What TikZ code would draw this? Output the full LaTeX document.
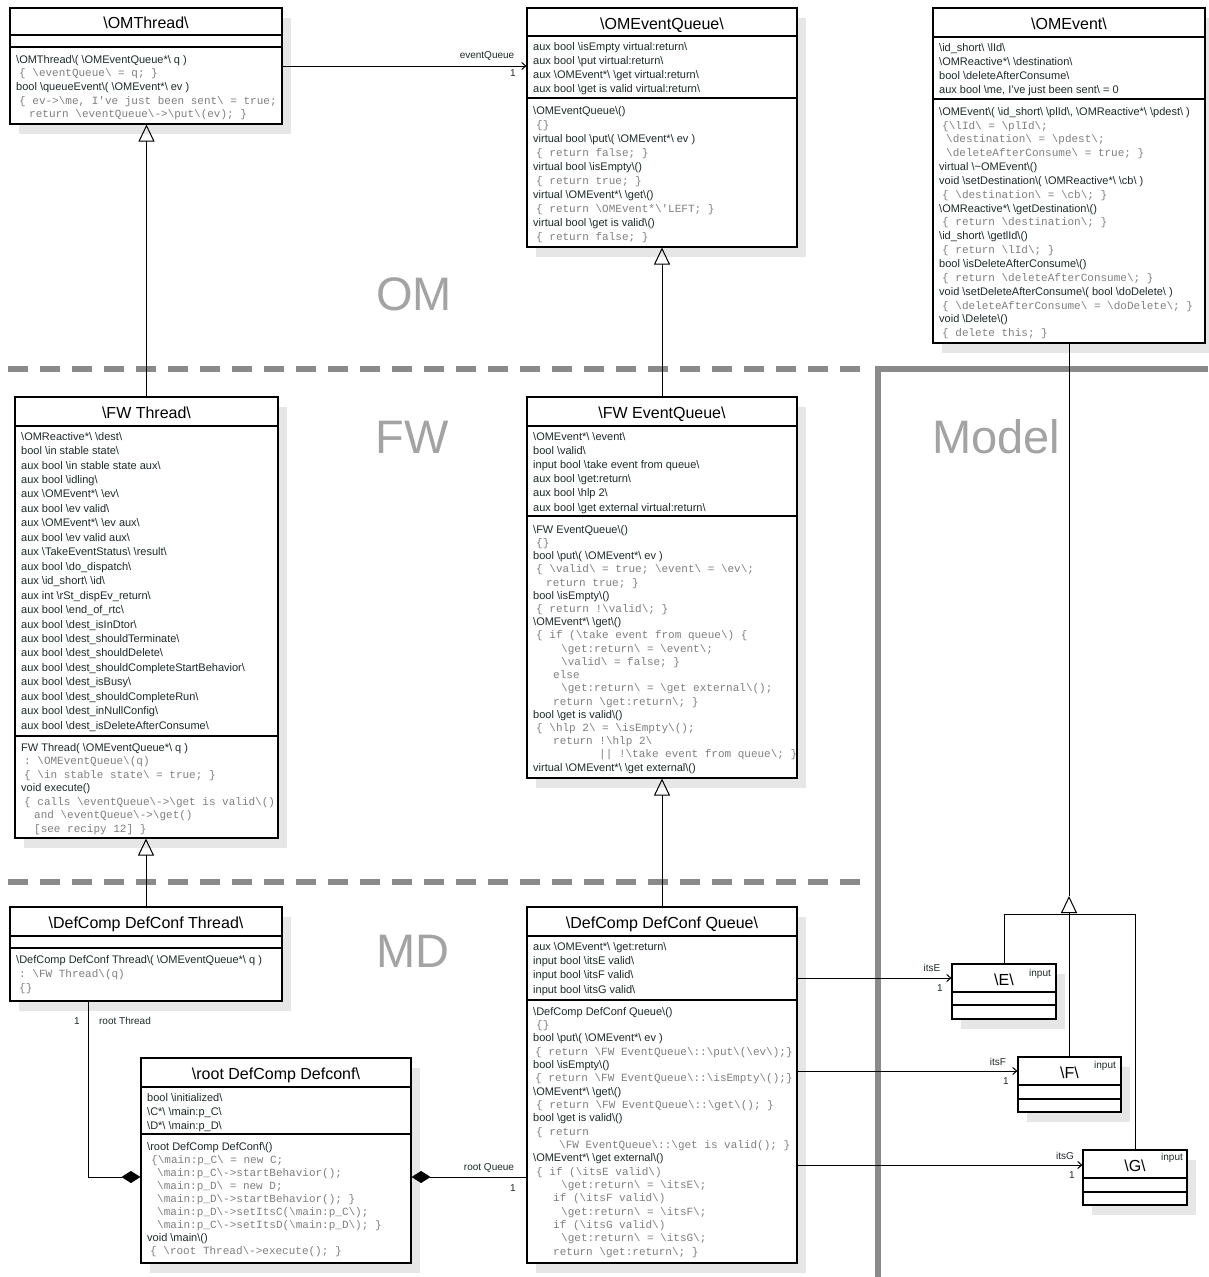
\documentclass[tikz,border=0pt]{standalone}
\usepackage{fontspec}
\setmainfont{Liberation Sans}
\setmonofont{Liberation Mono}
\usetikzlibrary{arrows.meta,shadows,fit}

\definecolor{sigc}{HTML}{1E2A2A}
\definecolor{codec}{HTML}{7F7F7F}
\definecolor{sepc}{HTML}{8A8A8A}
\definecolor{regionc}{HTML}{A3A3A3}
\definecolor{shadowc}{HTML}{E6E6E6}

% a backslash in running text
\newcommand\bk{\textbackslash}
% one line of code: optional indent (pt) and the code itself
\newcommand\codeln[2][0]{\hspace*{\dimexpr #1pt+3pt\relax}{\ttfamily\color{codec}#2}}

\tikzset{
  classbox/.style={draw=black, line width=1.1pt, fill=white, inner sep=0pt,
    drop shadow={shadow xshift=9pt, shadow yshift=-10pt, fill=shadowc, opacity=1}},
  compline/.style={line width=1.1pt},
  ctitle/.style={inner sep=0pt, anchor=base, text=black, font=\fontsize{16}{19}\selectfont},
  ctext/.style={anchor=north west, inner sep=0pt, align=left, text=sigc, yshift=-2pt,
    font=\fontsize{11}{#1}\selectfont, execute at begin node={\rule{0pt}{10pt}}},
  lbl/.style={inner sep=0pt, text=sigc, font=\fontsize{10}{12}\selectfont},
  region/.style={inner sep=0pt, text=regionc, font=\fontsize{47}{52}\selectfont},
  sepdash/.style={line width=6pt, draw=sepc, dash pattern=on 20pt off 12pt},
  sepsolid/.style={line width=6pt, draw=sepc},
  wire/.style={line width=1pt, draw=black},
  assoc/.style={wire, -{Straight Barb[length=4pt,width=7pt]}},
  gen/.style={wire, -{Triangle[open,length=17pt,width=16pt]}},
  comp/.style={wire, {Diamond[length=19pt,width=12pt]}-},
}

% class frame: name, left, top, right, bottom, title bottom, attribute bottom, title
\newcommand\umlclass[8]{%
  \node[classbox, fit={(#2,#3) (#4,#5)}] (#1) {};
  \draw[compline] (#1.west |- 0,#6) -- (#1.east |- 0,#6);
  \draw[compline] (#1.west |- 0,#7) -- (#1.east |- 0,#7);
  \node[ctitle] (#1-title) at ({(#2+#4)/2},{(#3+#6)/2+7}) {#8};
}

\begin{document}
\begin{tikzpicture}[x=1pt,y=-1pt]
\useasboundingbox (0,0) rectangle (1208,1277);
\fill[white] (0,0) rectangle (1208,1277);

% layer separators
\draw[sepdash] (8,369) -- (862,369);
\draw[sepdash] (8,882) -- (862,882);
\draw[sepsolid] (1208,369) -- (878,369) -- (878,1277);

% layer names
\node[region] (reg-om) at (414,294) {OM};
\node[region] (reg-fw) at (412,437) {FW};
\node[region] (reg-model) at (996,437) {Model};
\node[region] (reg-md) at (413,951) {MD};

% ---------------- OMThread
\umlclass{omthread}{10}{8}{282}{124}{35}{47}{\bk OMThread\bk}
\node[ctext=13.7] (omthread-ops) at (16,53) {\bk OMThread\bk( \bk OMEventQueue*\bk\ q )\\
  \codeln{\{ \bk eventQueue\bk\ = q; \}}\\
  bool \bk queueEvent\bk( \bk OMEvent*\bk\ ev )\\
  \codeln{\{ ev->\bk me, I've just been sent\bk\ = true;}\\
  \codeln[10]{return \bk eventQueue\bk->\bk put\bk(ev); \}}};

% ---------------- OMEventQueue
\umlclass{omeq}{527}{8}{797}{247}{36}{98}{\bk OMEventQueue\bk}
\node[ctext=14] (omeq-attr) at (533,40) {aux bool \bk isEmpty virtual:return\bk\\
  aux bool \bk put virtual:return\bk\\
  aux \bk OMEvent*\bk\ \bk get virtual:return\bk\\
  aux bool \bk get is valid virtual:return\bk};
\node[ctext=14] (omeq-ops) at (533,104) {\bk OMEventQueue\bk()\\
  \codeln{\{\}}\\
  virtual bool \bk put\bk( \bk OMEvent*\bk\ ev )\\
  \codeln{\{ return false; \}}\\
  virtual bool \bk isEmpty\bk()\\
  \codeln{\{ return true; \}}\\
  virtual \bk OMEvent*\bk\ \bk get\bk()\\
  \codeln{\{ return \bk OMEvent*\bk'LEFT; \}}\\
  virtual bool \bk get is valid\bk()\\
  \codeln{\{ return false; \}}};

% ---------------- OMEvent
\umlclass{omevent}{933}{8}{1205}{343}{37}{99}{\bk OMEvent\bk}
\node[ctext=14] (omevent-attr) at (939,41) {\bk id\_short\bk\ \bk lId\bk\\
  \bk OMReactive*\bk\ \bk destination\bk\\
  bool \bk deleteAfterConsume\bk\\
  aux bool \bk me, I've just been sent\bk\ = 0};
\node[ctext=13.85] (omevent-ops) at (939,105) {\bk OMEvent\bk( \bk id\_short\bk\ \bk plId\bk, \bk OMReactive*\bk\ \bk pdest\bk\ )\\
  \codeln{\{\bk lId\bk\ = \bk plId\bk;}\\
  \codeln[4]{\bk destination\bk\ = \bk pdest\bk;}\\
  \codeln[4]{\bk deleteAfterConsume\bk\ = true; \}}\\
  virtual \bk\textasciitilde OMEvent\bk()\\
  void \bk setDestination\bk( \bk OMReactive*\bk\ \bk cb\bk\ )\\
  \codeln{\{ \bk destination\bk\ = \bk cb\bk; \}}\\
  \bk OMReactive*\bk\ \bk getDestination\bk()\\
  \codeln{\{ return \bk destination\bk; \}}\\
  \bk id\_short\bk\ \bk getlId\bk()\\
  \codeln{\{ return \bk lId\bk; \}}\\
  bool \bk isDeleteAfterConsume\bk()\\
  \codeln{\{ return \bk deleteAfterConsume\bk; \}}\\
  void \bk setDeleteAfterConsume\bk( bool \bk doDelete\bk\ )\\
  \codeln{\{ \bk deleteAfterConsume\bk\ = \bk doDelete\bk; \}}\\
  void \bk Delete\bk()\\
  \codeln{\{ delete this; \}}};

% ---------------- FW Thread
\umlclass{fwthread}{15}{397}{278}{838}{426}{736}{\bk FW Thread\bk}
\node[ctext=14.45] (fwthread-attr) at (21,430) {\bk OMReactive*\bk\ \bk dest\bk\\
  bool \bk in stable state\bk\\
  aux bool \bk in stable state aux\bk\\
  aux bool \bk idling\bk\\
  aux \bk OMEvent*\bk\ \bk ev\bk\\
  aux bool \bk ev valid\bk\\
  aux \bk OMEvent*\bk\ \bk ev aux\bk\\
  aux bool \bk ev valid aux\bk\\
  aux \bk TakeEventStatus\bk\ \bk result\bk\\
  aux bool \bk do\_dispatch\bk\\
  aux \bk id\_short\bk\ \bk id\bk\\
  aux int \bk rSt\_dispEv\_return\bk\\
  aux bool \bk end\_of\_rtc\bk\\
  aux bool \bk dest\_isInDtor\bk\\
  aux bool \bk dest\_shouldTerminate\bk\\
  aux bool \bk dest\_shouldDelete\bk\\
  aux bool \bk dest\_shouldCompleteStartBehavior\bk\\
  aux bool \bk dest\_isBusy\bk\\
  aux bool \bk dest\_shouldCompleteRun\bk\\
  aux bool \bk dest\_inNullConfig\bk\\
  aux bool \bk dest\_isDeleteAfterConsume\bk};
\node[ctext=13.5] (fwthread-ops) at (21,741) {FW Thread( \bk OMEventQueue*\bk\ q )\\
  \codeln{: \bk OMEventQueue\bk(q)}\\
  \codeln{\{ \bk in stable state\bk\ = true; \}}\\
  void execute()\\
  \codeln{\{ calls \bk eventQueue\bk->\bk get is valid\bk()}\\
  \codeln[10]{and \bk eventQueue\bk->\bk get()}\\
  \codeln[10]{[see recipy 12] \}}};

% ---------------- FW EventQueue
\umlclass{fweq}{527}{397}{797}{778}{426}{516}{\bk FW EventQueue\bk}
\node[ctext=14.2] (fweq-attr) at (533,430) {\bk OMEvent*\bk\ \bk event\bk\\
  bool \bk valid\bk\\
  input bool \bk take event from queue\bk\\
  aux bool \bk get:return\bk\\
  aux bool \bk hlp 2\bk\\
  aux bool \bk get external virtual:return\bk};
\node[ctext=13.22] (fweq-ops) at (533,523) {\bk FW EventQueue\bk()\\
  \codeln{\{\}}\\
  bool \bk put\bk( \bk OMEvent*\bk\ ev )\\
  \codeln{\{ \bk valid\bk\ = true; \bk event\bk\ = \bk ev\bk;}\\
  \codeln[10]{return true; \}}\\
  bool \bk isEmpty\bk()\\
  \codeln{\{ return !\bk valid\bk; \}}\\
  \bk OMEvent*\bk\ \bk get\bk()\\
  \codeln{\{ if (\bk take event from queue\bk) \{}\\
  \codeln[25]{\bk get:return\bk\ = \bk event\bk;}\\
  \codeln[25]{\bk valid\bk\ = false; \}}\\
  \codeln[17]{else}\\
  \codeln[25]{\bk get:return\bk\ = \bk get external\bk();}\\
  \codeln[17]{return \bk get:return\bk; \}}\\
  bool \bk get is valid\bk()\\
  \codeln{\{ \bk hlp 2\bk\ = \bk isEmpty\bk();}\\
  \codeln[17]{return !\bk hlp 2\bk}\\
  \codeln[63]{|| !\bk take event from queue\bk; \}}\\
  virtual \bk OMEvent*\bk\ \bk get external\bk()};

% ---------------- DefComp DefConf Thread
\umlclass{dcthread}{10}{907}{282}{1001}{936}{948}{\bk DefComp DefConf Thread\bk}
\node[ctext=14] (dcthread-ops) at (16,953) {\bk DefComp DefConf Thread\bk( \bk OMEventQueue*\bk\ q )\\
  \codeln{: \bk FW Thread\bk(q)}\\
  \codeln{\{\}}};

% ---------------- root DefComp Defconf
\umlclass{rootdc}{141}{1058}{411}{1263}{1087}{1134}{\bk root DefComp Defconf\bk}
\node[ctext=14] (rootdc-attr) at (147,1091) {bool \bk initialized\bk\\
  \bk C*\bk\ \bk main:p\_C\bk\\
  \bk D*\bk\ \bk main:p\_D\bk};
\node[ctext=13.1] (rootdc-ops) at (147,1140) {\bk root DefComp DefConf\bk()\\
  \codeln[1]{\{\bk main:p\_C\bk\ = new C;}\\
  \codeln[7]{\bk main:p\_C\bk->startBehavior();}\\
  \codeln[7]{\bk main:p\_D\bk\ = new D;}\\
  \codeln[7]{\bk main:p\_D\bk->startBehavior(); \}}\\
  \codeln[7]{\bk main:p\_D\bk->setItsC(\bk main:p\_C\bk);}\\
  \codeln[7]{\bk main:p\_C\bk->setItsD(\bk main:p\_D\bk); \}}\\
  void \bk main\bk()\\
  \codeln{\{ \bk root Thread\bk->execute(); \}}};

% ---------------- DefComp DefConf Queue
\umlclass{dcq}{527}{907}{797}{1263}{936}{1000}{\bk DefComp DefConf Queue\bk}
\node[ctext=14.3] (dcq-attr) at (533,940) {aux \bk OMEvent*\bk\ \bk get:return\bk\\
  input bool \bk itsE valid\bk\\
  input bool \bk itsF valid\bk\\
  input bool \bk itsG valid\bk};
\node[ctext=13.33] (dcq-ops) at (533,1005) {\bk DefComp DefConf Queue\bk()\\
  \codeln{\{\}}\\
  bool \bk put\bk( \bk OMEvent*\bk\ ev )\\
  \codeln[-1]{\{ return \bk FW EventQueue\bk::\bk put\bk(\bk ev\bk);\}}\\
  bool \bk isEmpty\bk()\\
  \codeln[-1]{\{ return \bk FW EventQueue\bk::\bk isEmpty\bk();\}}\\
  \bk OMEvent*\bk\ \bk get\bk()\\
  \codeln{\{ return \bk FW EventQueue\bk::\bk get\bk(); \}}\\
  bool \bk get is valid\bk()\\
  \codeln{\{ return}\\
  \codeln[23]{\bk FW EventQueue\bk::\bk get is valid(); \}}\\
  \bk OMEvent*\bk\ \bk get external\bk()\\
  \codeln{\{ if (\bk itsE valid\bk)}\\
  \codeln[25]{\bk get:return\bk\ = \bk itsE\bk;}\\
  \codeln[17]{if (\bk itsF valid\bk)}\\
  \codeln[25]{\bk get:return\bk\ = \bk itsF\bk;}\\
  \codeln[17]{if (\bk itsG valid\bk)}\\
  \codeln[25]{\bk get:return\bk\ = \bk itsG\bk;}\\
  \codeln[17]{return \bk get:return\bk; \}}};

% ---------------- model events
\umlclass{ebox}{952}{964}{1056}{1019}{992}{1005}{\bk E\bk}
\umlclass{fbox}{1018}{1057}{1121}{1112}{1085}{1099}{\bk F\bk}
\umlclass{gbox}{1083}{1150}{1187}{1205}{1178}{1192}{\bk G\bk}
\node[lbl] (ebox-stereo) at (1040,974) {input};
\node[lbl] (fbox-stereo) at (1105,1066) {input};
\node[lbl] (gbox-stereo) at (1172,1158) {input};

% ---------------- connectors
\draw[assoc] (omthread.east) -- (omthread.east -| omeq.west);
\node[lbl] (evq-role) at (487,56) {eventQueue};
\node[lbl] (evq-mult) at (513,73) {1};

\draw[gen] (fwthread.north) -- (fwthread.north |- omthread.south);
\draw[gen] (fweq.north) -- (omeq.south);
\draw[gen] (dcthread.north) -- (dcthread.north |- fwthread.south);
\draw[gen] (dcq.north) -- (fweq.south);

\coordinate (gtip) at (omevent.south |- 0,896);
\draw[wire] (omevent.south) -- (gtip);
\draw[gen] (fbox.north -| gtip) -- (gtip);
\draw[wire] (ebox.north) |- (gtip |- 0,914) -| (gbox.north);

\coordinate (rtbend) at (88,1177);
\draw[comp] (rootdc.west |- rtbend) -- (rtbend) -- (rtbend |- dcthread.south);
\node[lbl] (rt-mult) at (77,1021) {1};
\node[lbl] (rt-role) at (125,1021) {root Thread};

\draw[comp] (rootdc.east |- rtbend) -- (dcq.west |- rtbend);
\node[lbl] (rq-role) at (489,1168) {root Queue};
\node[lbl] (rq-mult) at (513,1188) {1};

\draw[assoc] (dcq.east |- 0,978) -- (ebox.west |- 0,978);
\node[lbl] (itse-role) at (932,968) {itsE};
\node[lbl] (itse-mult) at (940,988) {1};
\draw[assoc] (dcq.east |- 0,1071) -- (fbox.west |- 0,1071);
\node[lbl] (itsf-role) at (998,1062) {itsF};
\node[lbl] (itsf-mult) at (1006,1081) {1};
\draw[assoc] (dcq.east |- 0,1165) -- (gbox.west |- 0,1165);
\node[lbl] (itsg-role) at (1065,1156) {itsG};
\node[lbl] (itsg-mult) at (1072,1175) {1};
\end{tikzpicture}
\end{document}
